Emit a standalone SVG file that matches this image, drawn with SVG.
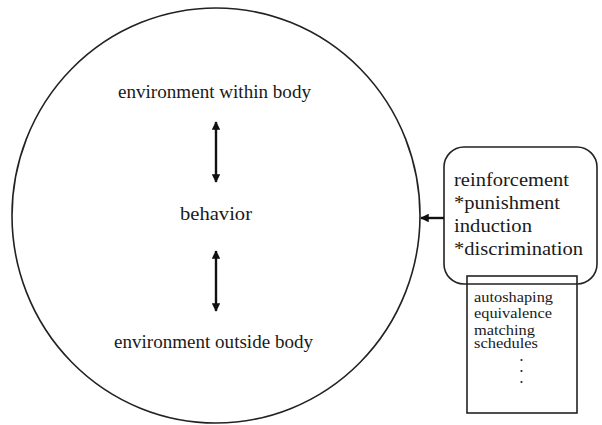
<svg xmlns="http://www.w3.org/2000/svg" width="602" height="425" viewBox="0 0 602 425">
<style>
  .t { font-family: "Liberation Serif", "Times New Roman", serif; fill: #1a1a1a; }
  .c { font-size: 18px; }
  .r { font-size: 19px; }
  .s { font-size: 15px; }
  .shape { fill: none; stroke: #222; stroke-width: 1.6; }
  .conn { stroke: #111; stroke-width: 2.4; fill: none; }
</style>
<defs>
  <marker id="ah" viewBox="0 0 10 10" refX="9" refY="5" markerWidth="3.6" markerHeight="3.6" orient="auto-start-reverse" markerUnits="strokeWidth">
    <path d="M0,0 L10,5 L0,10 Z" fill="#111"/>
  </marker>
</defs>
<rect width="602" height="425" fill="#fff"/>

<g id="circle-node">
  <ellipse class="shape" cx="216" cy="215.5" rx="204" ry="207.5"/>
  <text class="t c" x="118" y="98" textLength="193" lengthAdjust="spacingAndGlyphs">environment within body</text>
  <text class="t c" x="180" y="220" textLength="72" lengthAdjust="spacingAndGlyphs">behavior</text>
  <text class="t c" x="114" y="348" textLength="199" lengthAdjust="spacingAndGlyphs">environment outside body</text>
</g>

<g id="processes-node">
  <rect class="shape" x="444" y="147" width="153" height="137" rx="20" ry="20"/>
  <text class="t r" x="454" y="186" textLength="115" lengthAdjust="spacingAndGlyphs">reinforcement</text>
  <text class="t r" x="454" y="209" textLength="106" lengthAdjust="spacingAndGlyphs">*punishment</text>
  <text class="t r" x="454" y="232" textLength="78" lengthAdjust="spacingAndGlyphs">induction</text>
  <text class="t r" x="454" y="255" textLength="129" lengthAdjust="spacingAndGlyphs">*discrimination</text>
</g>

<g id="topics-node">
  <rect class="shape" x="467" y="276" width="110" height="137"/>
  <text class="t s" x="474" y="302" textLength="79" lengthAdjust="spacingAndGlyphs">autoshaping</text>
  <text class="t s" x="474" y="318" textLength="78" lengthAdjust="spacingAndGlyphs">equivalence</text>
  <text class="t s" x="474" y="335" textLength="61" lengthAdjust="spacingAndGlyphs">matching</text>
  <text class="t s" x="474" y="348" textLength="64" lengthAdjust="spacingAndGlyphs">schedules</text>
  <circle cx="521.5" cy="360" r="1.1" fill="#222"/>
  <circle cx="521.5" cy="371" r="1.1" fill="#222"/>
  <circle cx="521.5" cy="382" r="1.1" fill="#222"/>
</g>

<g id="connectors">
  <line class="conn" x1="216" y1="122" x2="216" y2="182" marker-start="url(#ah)" marker-end="url(#ah)"/>
  <line class="conn" x1="216" y1="251" x2="216" y2="311" marker-start="url(#ah)" marker-end="url(#ah)"/>
  <line class="conn" x1="444" y1="218" x2="421" y2="218" marker-end="url(#ah)"/>
</g>
</svg>
